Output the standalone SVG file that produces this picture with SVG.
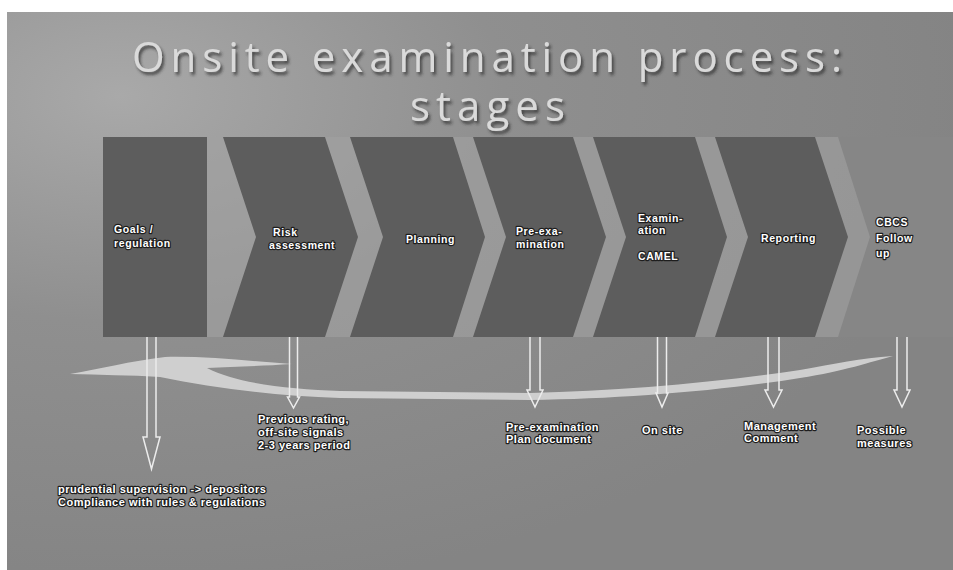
<svg xmlns="http://www.w3.org/2000/svg" width="953" height="570" viewBox="0 0 953 570">
<defs>
<radialGradient id="bg" cx="0.12" cy="0.15" r="0.9">
<stop offset="0" stop-color="#a9a9a9"/>
<stop offset="0.45" stop-color="#8f8f8f"/>
<stop offset="1" stop-color="#848484"/>
</radialGradient>
<filter id="sh" x="-5%" y="-20%" width="110%" height="150%">
<feGaussianBlur in="SourceAlpha" stdDeviation="1.6"/>
<feOffset dx="2" dy="3" result="b"/>
<feFlood flood-color="#2a2a2a" flood-opacity="0.75"/>
<feComposite in2="b" operator="in"/>
<feMerge><feMergeNode/><feMergeNode in="SourceGraphic"/></feMerge>
</filter>
<style>
.title{font-family:"Open Sans","Noto Sans",sans-serif;font-size:42px;fill:#dadada;}
.lbl{font-family:"Liberation Sans",Arial,sans-serif;font-weight:bold;font-size:10.5px;fill:#ffffff;stroke:#1e1e1e;stroke-width:2.4px;paint-order:stroke;stroke-linejoin:round;letter-spacing:0.6px;}
.sub{font-family:"Liberation Sans",Arial,sans-serif;font-weight:bold;font-size:11px;fill:#ffffff;stroke:#1e1e1e;stroke-width:2.4px;paint-order:stroke;stroke-linejoin:round;letter-spacing:0.5px;}
.chev{fill:#5d5d5d;}
.arr{fill:none;stroke:#ececec;stroke-width:1.5;stroke-linejoin:miter;}
</style>
</defs>
<rect x="0" y="0" width="953" height="570" fill="#ffffff"/>
<rect x="7" y="12" width="946" height="558" fill="url(#bg)"/>
<rect x="200" y="137" width="753" height="200" fill="#a2a2a2" opacity="0.6"/>

<g id="title" filter="url(#sh)">
<text class="title" x="132" y="72" textLength="710" lengthAdjust="spacing">Onsite examination process:</text>
<text class="title" x="410" y="121" textLength="155" lengthAdjust="spacing">stages</text>
</g>

<g id="stage-goals">
<rect class="chev" x="103" y="137" width="104" height="200"/>
<text class="lbl" x="114" y="233">Goals /</text>
<text class="lbl" x="114" y="247">regulation</text>
</g>
<g id="stage-risk">
<polygon class="chev" points="223,137 325,137 358,237 325,337 223,337 256,237"/>
<text class="lbl" x="273" y="236">Risk</text>
<text class="lbl" x="269" y="249">assessment</text>
</g>
<g id="stage-planning">
<polygon class="chev" points="350,137 453,137 485,237 453,337 350,337 383,237"/>
<text class="lbl" x="406" y="243">Planning</text>
</g>
<g id="stage-preexam">
<polygon class="chev" points="473,137 573,137 606,237 573,337 473,337 506,237"/>
<text class="lbl" x="516" y="235">Pre-exa-</text>
<text class="lbl" x="516" y="248">mination</text>
</g>
<g id="stage-exam">
<polygon class="chev" points="593,137 695,137 727,237 695,337 593,337 626,237"/>
<text class="lbl" x="638" y="222">Examin-</text>
<text class="lbl" x="638" y="234">ation</text>
<text class="lbl" x="638" y="260">CAMEL</text>
</g>
<g id="stage-reporting">
<polygon class="chev" points="715,137 815,137 848,237 815,337 715,337 748,237"/>
<text class="lbl" x="761" y="242">Reporting</text>
</g>
<g id="stage-followup">
<polygon points="838,137 953,137 953,337 838,337 870,237" fill="#868686"/>
<text class="lbl" x="876" y="226">CBCS</text>
<text class="lbl" x="876" y="242">Follow</text>
<text class="lbl" x="876" y="257">up</text>
</g>

<g id="cycle-arrow">
<path d="M70,374 C100,369 130,361 165,357 C205,356 250,361 292,364 C260,366 232,367 207,368 C238,384 290,389 340,391 L530,393 C620,391 720,382 800,370 C835,364 860,358 893,356 C870,362 845,371 800,378 C720,391 620,399 530,400 L340,398 C275,396 215,388 160,377 C130,375 100,375 70,374 Z" fill="#d6d6d6" opacity="0.9"/>
</g>

<g id="connectors">
<path class="arr" d="M147,337 V437 H143 L151.5,469 L160,437 H156 V337"/>
<path class="arr" d="M289.5,337 V397 H287.5 L293.5,408 L299.5,397 H297.5 V337"/>
<path class="arr" d="M530,337 V390 H527 L535,407 L543,390 H540 V337"/>
<path class="arr" d="M657.5,337 V393 H656 L662,407 L668,393 H666.5 V337"/>
<path class="arr" d="M768,337 V390 H765 L773.5,407 L782,390 H779 V337"/>
<path class="arr" d="M897,337 V390 H894 L902,407 L910,390 H907 V337"/>
</g>

<g id="label-goals">
<text class="sub" x="58" y="493">prudential supervision -&gt; depositors</text>
<text class="sub" x="58" y="506">Compliance with rules &amp; regulations</text>
</g>
<g id="label-risk">
<text class="sub" x="258" y="423">Previous rating,</text>
<text class="sub" x="258" y="436">off-site signals</text>
<text class="sub" x="258" y="449">2-3 years period</text>
</g>
<g id="label-preexam">
<text class="sub" x="506" y="431">Pre-examination</text>
<text class="sub" x="506" y="443">Plan document</text>
</g>
<g id="label-onsite">
<text class="sub" x="642" y="434">On site</text>
</g>
<g id="label-reporting">
<text class="sub" x="744" y="430">Management</text>
<text class="sub" x="744" y="442">Comment</text>
</g>
<g id="label-followup">
<text class="sub" x="857" y="434">Possible</text>
<text class="sub" x="857" y="447">measures</text>
</g>
</svg>
